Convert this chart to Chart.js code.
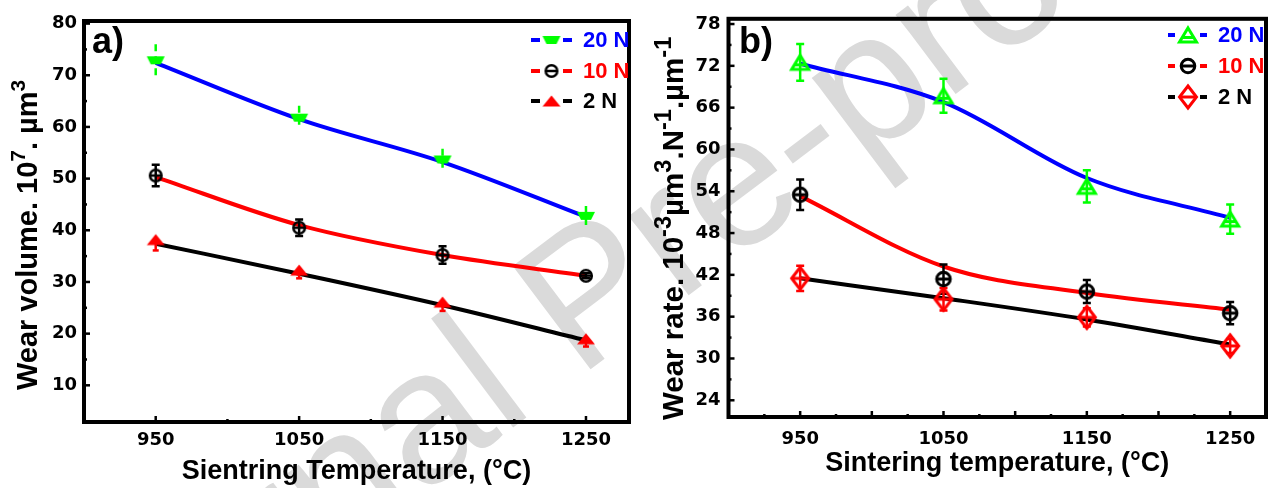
<!DOCTYPE html>
<html><head><meta charset="utf-8">
<script src="https://cdn.jsdelivr.net/npm/chart.js@4.4.1/dist/chart.umd.min.js"></script>
<style>
html,body{margin:0;padding:0;background:#fff;width:1277px;height:488px;overflow:hidden;}
#wm{position:absolute;left:0;top:0;}
canvas{position:absolute;top:0;}
#c1{left:0}
#c2{left:640px}
</style></head><body>
<svg id="wm" width="1277" height="488"><text x="44" y="781" transform="rotate(-37 44 781)" font-family="Liberation Sans" font-size="188" fill="#dadada">Journal Pre-proof</text></svg>
<canvas id="c1" width="640" height="488"></canvas>
<canvas id="c2" width="637" height="488"></canvas>
<script>
// ---------- data ----------
const temperatures = [950, 1050, 1150, 1250];
const seriesLabels = ['20 N', '10 N', '2 N'];
const xTickValues = [950, 1050, 1150, 1250];
const volumeTicks = [10, 20, 30, 40, 50, 60, 70, 80];
const rateTicks = [24, 30, 36, 42, 48, 54, 60, 66, 72, 78];

// panel a: wear volume (10^7 µm^3)
const volume20N = [72.9, 61.8, 53.7, 42.8];
const volume20NErr = [3.1, 2.3, 2.1, 1.9];
const volume20NFit = [72.4, 61.5, 53.2, 42.6];
const volume10N = [50.6, 40.5, 35.2, 31.2];
const volume10NErr = [2.1, 1.6, 1.7, 0.5];
const volume10NFit = [50.3, 41.0, 35.2, 31.2];
const volume2N = [38.2, 32.3, 26.1, 19.0];
const volume2NErr = [2.1, 1.6, 1.7, 1.5];
const volume2NFit = [37.4, 31.6, 25.5, 18.7];

// panel b: wear rate (10^-3 µm^3 N^-1 µm^-1)
const rate20N = [72.5, 67.7, 54.7, 50.0];
const rate20NErr = [2.65, 2.45, 2.3, 2.1];
const rate20NFit = [72.3, 66.8, 55.9, 50.2];
const rate10N = [53.5, 41.4, 39.6, 36.5];
const rate10NErr = [2.2, 2.1, 1.65, 1.6];
const rate10NFit = [53.3, 43.2, 39.4, 37.0];
const rate2N = [41.5, 38.5, 35.9, 31.8];
const rate2NErr = [1.8, 1.6, 1.3, 1.0];
const rate2NFit = [41.5, 38.65, 35.6, 32.0];

// axis titles as [text, isSuperscript] pieces
const volumeTitle = [['Wear volume. 10', 0], ['7', 1], ['. µm', 0], ['3', 1]];
const rateTitle = [['Wear rate. 10', 0], ['-3', 1], ['µm', 0], ['3', 1], ['.N', 0], ['-1', 1], ['.µm', 0], ['-1', 1]];

// ---------- colours / markers ----------
const BLUE = '#0000ff', RED = '#ff0000', BLACK = '#000000', GREEN = '#00ff00';

function mk(w, h, draw) {
  const c = document.createElement('canvas');
  c.width = w; c.height = h;
  const g = c.getContext('2d');
  g.translate(w / 2, h / 2);
  draw(g);
  return c;
}
const mTrap = mk(20, 12, g => { g.fillStyle = GREEN; g.beginPath(); g.moveTo(-9, -4); g.lineTo(9, -4); g.lineTo(5, 4); g.lineTo(-5, 4); g.closePath(); g.fill(); });
const mCircleA = mk(18, 18, g => { g.strokeStyle = BLACK; g.lineWidth = 2.5; g.beginPath(); g.arc(0, 0, 5.8, 0, Math.PI * 2); g.stroke(); g.beginPath(); g.moveTo(-6, 0); g.lineTo(6, 0); g.stroke(); });
const mTriFill = mk(22, 14, g => { g.fillStyle = RED; g.beginPath(); g.moveTo(0, -5.5); g.lineTo(9, 5.5); g.lineTo(-9, 5.5); g.closePath(); g.fill(); });
const mTriOpen = mk(24, 22, g => { g.strokeStyle = GREEN; g.lineWidth = 3; g.lineJoin = 'miter'; g.beginPath(); g.moveTo(0, -7); g.lineTo(8.5, 7); g.lineTo(-8.5, 7); g.closePath(); g.stroke(); g.beginPath(); g.moveTo(-6, 2.5); g.lineTo(6, 2.5); g.stroke(); });
const mCircleB = mk(22, 22, g => { g.strokeStyle = BLACK; g.lineWidth = 3; g.beginPath(); g.arc(0, 0, 6.8, 0, Math.PI * 2); g.stroke(); g.beginPath(); g.moveTo(-7, 0); g.lineTo(7, 0); g.stroke(); });
const mDiamond = mk(24, 28, g => { g.strokeStyle = RED; g.lineWidth = 3; g.beginPath(); g.moveTo(0, -11); g.lineTo(8.5, 0); g.lineTo(0, 11); g.lineTo(-8.5, 0); g.closePath(); g.stroke(); g.beginPath(); g.moveTo(-8.5, 0); g.lineTo(8.5, 0); g.stroke(); });

function pts(vals) { return temperatures.map((t, i) => ({ x: t, y: vals[i] })); }
function fitDS(label, vals, color) {
  return { label: label + ' fit', data: pts(vals), borderColor: color, borderWidth: 4, pointRadius: 0, fill: false,
    cubicInterpolationMode: 'monotone', order: 2, role: 'fit' };
}
function markDS(label, vals, err, marker, errStyle) {
  return { label, data: pts(vals), showLine: false, pointStyle: marker, pointRadius: 10, order: 1,
    role: 'mark', err, errStyle };
}

// ---------- plugin ----------
function drawErrors(chart) {
  const ctx = chart.ctx, xs = chart.scales.x, ys = chart.scales.y;
  chart.data.datasets.forEach(ds => {
    if (ds.role !== 'mark') return;
    const st = ds.errStyle;
    ctx.save();
    ctx.strokeStyle = st.color; ctx.lineWidth = st.width; ctx.lineCap = 'butt';
    ds.data.forEach((p, i) => {
      const x = xs.getPixelForValue(p.x);
      const yc = ys.getPixelForValue(p.y);
      const y1 = st.minusOnly ? yc : ys.getPixelForValue(p.y + ds.err[i]);
      const y2 = ys.getPixelForValue(p.y - ds.err[i]);
      ctx.setLineDash(st.dash || []);
      ctx.beginPath(); ctx.moveTo(x, y1); ctx.lineTo(x, y2); ctx.stroke();
      if (st.cap) {
        ctx.setLineDash([]);
        ctx.beginPath();
        if (!st.minusOnly) { ctx.moveTo(x - st.cap, y1); ctx.lineTo(x + st.cap, y1); }
        ctx.moveTo(x - st.cap, y2); ctx.lineTo(x + st.cap, y2);
        ctx.stroke();
      }
    });
    ctx.restore();
  });
}

function drawRichVertical(ctx, pieces, baseX, startY, size, supScale) {
  ctx.save();
  ctx.translate(baseX, startY);
  ctx.rotate(-Math.PI / 2);
  ctx.fillStyle = '#000';
  ctx.textBaseline = 'alphabetic'; ctx.textAlign = 'left';
  let x = 0;
  pieces.forEach(([t, sup]) => {
    const s = sup ? size * supScale : size;
    ctx.font = 'bold ' + s + 'px "Liberation Sans", Arial, sans-serif';
    ctx.fillText(t, x, sup ? -size * 0.4 : 0);
    x += ctx.measureText(t).width;
  });
  ctx.restore();
}

const decor = {
  id: 'decor',
  beforeDraw(chart) { chart.$errDone = false; },
  beforeDatasetDraw(chart, args) {
    const ds = chart.data.datasets[args.index];
    if (ds.role === 'mark' && !chart.$errDone) { drawErrors(chart); chart.$errDone = true; }
  },
  afterDraw(chart, args, o) {
    const ctx = chart.ctx, ca = chart.chartArea, xs = chart.scales.x, ys = chart.scales.y;
    ctx.save();
    // ticks (inward)
    ctx.strokeStyle = '#000'; ctx.lineWidth = 2.5; ctx.lineCap = 'butt';
    const tk = o.ticks;
    for (let v = tk.xStart; v <= xs.max + 1e-6; v += tk.xMinor) {
      if (v < xs.min) continue;
      const r = (v - tk.xStart) / tk.xMajor;
      const major = Math.abs(r - Math.round(r)) < 1e-6;
      const x = xs.getPixelForValue(v);
      ctx.beginPath(); ctx.moveTo(x, ca.bottom); ctx.lineTo(x, ca.bottom - (major ? tk.majorLen : tk.minorLen)); ctx.stroke();
    }
    for (let v = tk.yStart; v <= ys.max + 1e-6; v += tk.yMinor) {
      if (v < ys.min) continue;
      const r = (v - tk.yStart) / tk.yMajor;
      const major = Math.abs(r - Math.round(r)) < 1e-6;
      const y = ys.getPixelForValue(v);
      ctx.beginPath(); ctx.moveTo(ca.left, y); ctx.lineTo(ca.left + (major ? tk.majorLen : tk.minorLen), y); ctx.stroke();
    }
    // frame
    ctx.lineWidth = 4; ctx.lineJoin = 'miter';
    ctx.strokeRect(ca.left, ca.top, ca.right - ca.left, ca.bottom - ca.top);
    // y title
    drawRichVertical(ctx, o.yTitle.pieces, o.yTitle.x, o.yTitle.y, o.yTitle.size, o.yTitle.sup);
    // panel label
    ctx.fillStyle = '#000';
    ctx.font = 'bold 36px "Liberation Sans", Arial, sans-serif';
    ctx.textBaseline = 'alphabetic'; ctx.textAlign = 'left';
    ctx.fillText(o.panel.text, o.panel.x, o.panel.y);
    // legend
    const L = o.legend;
    ctx.font = L.font; ctx.textBaseline = 'middle';
    L.items.forEach(it => {
      ctx.strokeStyle = it.lineColor; ctx.lineWidth = 4;
      ctx.beginPath();
      ctx.moveTo(L.d1[0], it.y); ctx.lineTo(L.d1[1], it.y);
      ctx.moveTo(L.d2[0], it.y); ctx.lineTo(L.d2[1], it.y);
      ctx.stroke();
      ctx.drawImage(it.marker, L.mx - it.marker.width / 2, it.y - it.marker.height / 2);
      ctx.fillStyle = it.textColor;
      ctx.fillText(it.text, L.tx, it.y + 1);
    });
    ctx.restore();
  }
};

const tickFont = { family: 'DejaVu Sans', weight: 'bold', size: 18 };

function makeScales(cfg) {
  return {
    x: {
      type: 'linear', min: cfg.xMin, max: cfg.xMax,
      afterBuildTicks: s => { s.ticks = xTickValues.map(v => ({ value: v })); },
      afterFit: s => { s.height = cfg.xHeight; },
      grid: { display: false, drawTicks: false }, border: { display: false },
      ticks: { font: tickFont, color: '#000', padding: cfg.xPad, autoSkip: false, maxRotation: 0, callback: v => String(v) },
      title: { display: true, text: cfg.xTitle, color: '#000', font: { family: 'Liberation Sans', weight: 'bold', size: 27 }, padding: { top: 0, bottom: cfg.xTitlePad } }
    },
    y: {
      type: 'linear', min: cfg.yMin, max: cfg.yMax,
      afterBuildTicks: s => { s.ticks = cfg.yTicks.map(v => ({ value: v })); },
      afterFit: s => { s.width = cfg.yWidth; },
      grid: { display: false, drawTicks: false }, border: { display: false },
      ticks: { font: tickFont, color: '#000', padding: cfg.yPad, autoSkip: false, callback: v => String(v) },
      title: { display: false }
    }
  };
}

const legendFont = 'bold 22px "Liberation Sans", Arial, sans-serif';

// ---------- chart a ----------
new Chart(document.getElementById('c1'), {
  type: 'line',
  data: {
    datasets: [
      fitDS(seriesLabels[0], volume20NFit, BLUE),
      fitDS(seriesLabels[1], volume10NFit, RED),
      fitDS(seriesLabels[2], volume2NFit, BLACK),
      markDS(seriesLabels[0], volume20N, volume20NErr, mTrap, { color: GREEN, width: 2.5, dash: [7, 5] }),
      markDS(seriesLabels[1], volume10N, volume10NErr, mCircleA, { color: BLACK, width: 2.5, cap: 4 }),
      markDS(seriesLabels[2], volume2N, volume2NErr, mTriFill, { color: RED, width: 2.5, cap: 3, minusOnly: true })
    ]
  },
  options: {
    responsive: false, animation: false, devicePixelRatio: 1,
    layout: { padding: { left: 0, right: 5, top: 21, bottom: 0 } },
    scales: makeScales({ xMin: 900, xMax: 1280, yMin: 2.9, yMax: 80.5, yTicks: volumeTicks,
      xHeight: 66, yWidth: 84, xPad: 8, yPad: 7, xTitlePad: 0,
      xTitle: 'Sientring Temperature, (°C)' }),
    plugins: {
      legend: { display: false }, tooltip: { enabled: false },
      decor: {
        ticks: { xStart: 950, xMajor: 100, xMinor: 50, yStart: 10, yMajor: 10, yMinor: 5, majorLen: 6, minorLen: 3 },
        yTitle: { pieces: volumeTitle, x: 37, y: 390, size: 29, sup: 0.72 },
        panel: { text: 'a)', x: 92, y: 53 },
        legend: { font: legendFont, d1: [531, 540], d2: [563, 572], mx: 551.5, tx: 583,
          items: [
            { text: seriesLabels[0], textColor: BLUE, lineColor: BLUE, marker: mTrap, y: 40 },
            { text: seriesLabels[1], textColor: RED, lineColor: RED, marker: mCircleA, y: 71 },
            { text: seriesLabels[2], textColor: BLACK, lineColor: BLACK, marker: mTriFill, y: 101 }
          ] }
      }
    }
  },
  plugins: [decor]
});

// ---------- chart b ----------
new Chart(document.getElementById('c2'), {
  type: 'line',
  data: {
    datasets: [
      fitDS(seriesLabels[0], rate20NFit, BLUE),
      fitDS(seriesLabels[1], rate10NFit, RED),
      fitDS(seriesLabels[2], rate2NFit, BLACK),
      markDS(seriesLabels[0], rate20N, rate20NErr, mTriOpen, { color: GREEN, width: 2.5, cap: 4 }),
      markDS(seriesLabels[1], rate10N, rate10NErr, mCircleB, { color: BLACK, width: 2.5, cap: 4 }),
      markDS(seriesLabels[2], rate2N, rate2NErr, mDiamond, { color: RED, width: 2.5, cap: 4 })
    ]
  },
  options: {
    responsive: false, animation: false, devicePixelRatio: 1,
    layout: { padding: { left: 0, right: 8, top: 14, bottom: 0 } },
    scales: makeScales({ xMin: 900, xMax: 1275, yMin: 21.6, yMax: 78.75, yTicks: rateTicks,
      xHeight: 71, yWidth: 88.5, xPad: 12, yPad: 8, xTitlePad: 8,
      xTitle: 'Sintering temperature, (°C)' }),
    plugins: {
      legend: { display: false }, tooltip: { enabled: false },
      decor: {
        ticks: { xStart: 900, xMajor: 50, xMinor: 25, yStart: 24, yMajor: 6, yMinor: 3, majorLen: 6, minorLen: 3 },
        yTitle: { pieces: rateTitle, x: 43, y: 420, size: 29.5, sup: 0.8 },
        panel: { text: 'b)', x: 99, y: 53 },
        legend: { font: legendFont, d1: [528, 535], d2: [560, 567], mx: 548, tx: 578,
          items: [
            { text: seriesLabels[0], textColor: BLUE, lineColor: BLUE, marker: mTriOpen, y: 35 },
            { text: seriesLabels[1], textColor: RED, lineColor: RED, marker: mCircleB, y: 66 },
            { text: seriesLabels[2], textColor: BLACK, lineColor: BLACK, marker: mDiamond, y: 97 }
          ] }
      }
    }
  },
  plugins: [decor]
});
</script>
</body></html>
